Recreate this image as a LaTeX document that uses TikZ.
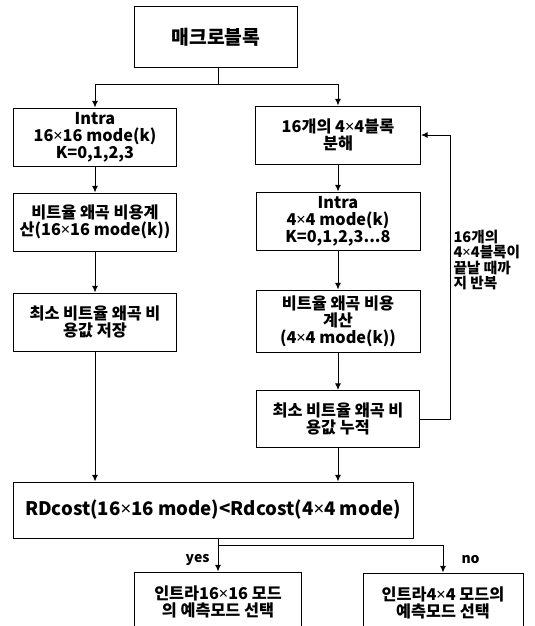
\documentclass[tikz,border=0pt]{standalone}
\usepackage{fontspec}
\setmainfont{Noto Sans CJK KR}
\newfontfamily\symfont{Noto Sans}
\newcommand\xmul{{\symfont ×}}
\usetikzlibrary{arrows.meta}

\tikzset{every picture/.style={line width=0.75pt}}
\tikzset{
  stepbox/.style={draw, minimum width=122pt, minimum height=43.5pt, inner sep=0.75pt, align=center,
    font=\bfseries\fontsize{12.2}{12.9}\selectfont},
  bigtext/.style={font=\bfseries\fontsize{14}{15}\selectfont},
  flow/.style={-{Latex[length=5pt,width=4.5pt]}},
}

\begin{document}
\begin{tikzpicture}[x=0.75pt,y=0.75pt,yscale=-1,xscale=1]
\useasboundingbox (0,0) rectangle (535,626);
\clip (0,0) rectangle (535,626);

%Shape: Rectangle [macroblock]
\node (mb) at (216,37) [stepbox, bigtext, font=\bfseries\fontsize{14.5}{15}\selectfont, minimum height=45.75pt] {매크로블록};
%Shape: Rectangle [left column]
\node (intra16) at (95,137) [stepbox] {Intra\\16\xmul16 mode(k)\\K=0,1,2,3};
\node (cost16) at (95,222) [stepbox] {비트율 왜곡 비용계\\산(16\xmul16 mode(k))};
\node (min16) at (95,322) [stepbox] {최소 비트율 왜곡 비\\용값 저장};
%Shape: Rectangle [right column]
\node (split) at (338,135) [stepbox, minimum width=123.75pt] {16개의 4\xmul4블록\\분해};
\node (intra4) at (338,221) [stepbox, minimum width=123pt] {Intra\\4\xmul4 mode(k)\\K=0,1,2,3...8};
\node (cost4) at (338,321) [stepbox, minimum width=123pt, minimum height=46.5pt] {비트율 왜곡 비용\\계산\\(4\xmul4 mode(k))};
\node (min4) at (338,419) [stepbox, minimum width=122.25pt, minimum height=42.75pt] {최소 비트율 왜곡 비\\용값 누적};
%Shape: Rectangle [compare]
\node (rd) at (213,510) [stepbox, bigtext, minimum width=300pt, minimum height=42pt] {RDcost(16\xmul16 mode)<Rdcost(4\xmul4 mode)};
%Shape: Rectangle [choice]
\node (yes) at (218,602) [stepbox, minimum width=125pt, minimum height=45pt] {인트라16\xmul16 모드\\의 예측모드 선택};
\node (no) at (443,603) [stepbox, minimum width=120pt, minimum height=45pt] {인트라4\xmul4 모드의\\예측모드 선택};

% Text Node
\node (looptxt) at (452,260) [anchor=west, inner sep=0.75pt, align=left,
  font=\bfseries\fontsize{11}{11.7}\selectfont] {16개의\\4\xmul4블록이\\끝날 때까\\지 반복};
\node (yestxt) at (211,560) [anchor=east, inner sep=0.75pt, font=\bfseries\fontsize{10.5}{12}\selectfont] {yes};
\node (notxt) at (460,560) [anchor=west, inner sep=0.75pt, font=\bfseries\fontsize{10.5}{12}\selectfont] {no};

%Straight Lines
\coordinate (fork1) at (218,84);
\coordinate (fork2) at (218,545);
\coordinate (loopx) at (450,419);
\draw (mb.south -| fork1) -- (fork1);
\draw [flow] (fork1) -| (intra16);
\draw [flow] (fork1) -| (split);
\draw [flow] (intra16) -- (cost16);
\draw [flow] (cost16) -- (min16);
\draw [flow] (min16) -- (min16 |- rd.north);
\draw [flow] (split) -- (intra4);
\draw [flow] (intra4) -- (cost4);
\draw [flow] (cost4) -- (min4);
\draw [flow] (min4) -- (min4 |- rd.north);
\draw [flow] (min4) -- (loopx) |- (split);
\draw [flow] (rd.south -| fork2) -- (yes);
\draw [flow] (fork2) -| (no);

\end{tikzpicture}
\end{document}
